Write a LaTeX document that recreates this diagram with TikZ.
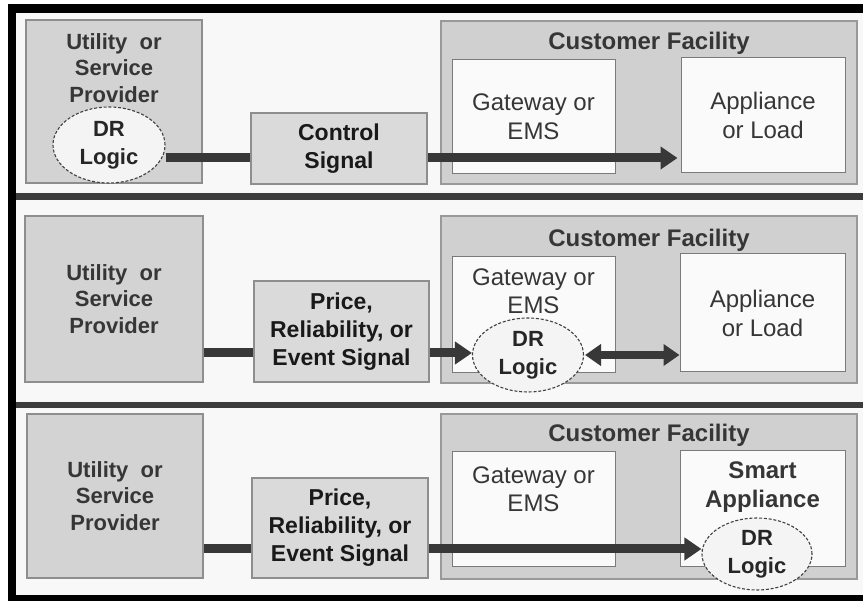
\documentclass[tikz,border=0pt]{standalone}
\usepackage{fontspec}
\setmainfont{Liberation Sans}
\usetikzlibrary{arrows.meta,shapes.geometric}
\pgfdeclarelayer{bg}
\pgfdeclarelayer{mid}
\pgfsetlayers{bg,mid,main}
\definecolor{sepgray}{HTML}{3C3C3C}
\definecolor{panelbg}{HTML}{F8F8F8}
\definecolor{boxfill}{HTML}{D3D3D3}
\definecolor{boxline}{HTML}{8E8E8E}
\definecolor{sigfill}{HTML}{DADADA}
\definecolor{custfill}{HTML}{D0D0D0}
\definecolor{innerfill}{HTML}{FAFAFA}
\definecolor{innerline}{HTML}{7A7A7A}
\definecolor{arrowgray}{HTML}{383838}
\definecolor{txtgray}{HTML}{363636}
\definecolor{ellfill}{HTML}{F4F4F4}
\begin{document}
\begin{tikzpicture}[x=1pt,y=-1pt,
  ubox/.style={draw=boxline,fill=boxfill,line width=1.2pt,rectangle,inner sep=0pt,
    align=center,text=txtgray,font=\fontsize{22}{26.5}\selectfont\bfseries},
  sigbox/.style={draw=boxline,fill=sigfill,line width=1.2pt,rectangle,inner sep=0pt,
    align=center,text=black!90,font=\fontsize{23}{28}\selectfont\bfseries},
  custbox/.style={draw=boxline!90,fill=custfill,line width=1.5pt,rectangle,inner sep=0pt},
  inbox/.style={draw=innerline,fill=innerfill,line width=1pt,rectangle,inner sep=0pt,
    align=center,text=txtgray,font=\fontsize{24}{29}\selectfont},
  title/.style={text=txtgray,font=\fontsize{24}{28}\selectfont\bfseries,inner sep=0pt},
  utxt/.style={align=center,text=txtgray,font=\fontsize{22}{26.5}\selectfont\bfseries,inner sep=0pt},
  gtxt/.style={align=center,text=txtgray,font=\fontsize{24}{28}\selectfont,inner sep=0pt},
  btxt/.style={align=center,text=txtgray,font=\fontsize{24}{29}\selectfont\bfseries,inner sep=0pt},
  drlogic/.style={ellipse,draw=black!75,fill=ellfill,line width=1.1pt,
    dash pattern=on 3pt off 1.8pt,inner sep=0pt,align=center,text=black!85,
    font=\fontsize{22}{28}\selectfont\bfseries},
  sig/.style={draw=arrowgray,line width=9pt,-{Triangle[length=17pt,width=22pt]}},
  sigboth/.style={draw=arrowgray,line width=8pt,
    {Triangle[length=16pt,width=21pt]}-{Triangle[length=16pt,width=21pt]}}
]
\useasboundingbox (0,0) rectangle (863,601);

\begin{pgfonlayer}{bg}
  % page, frame and the three panels
  \fill[white] (0,0) rectangle (863,601);
  \fill[black] (8,4) rectangle (863,601);
  \fill[sepgray] (16,13) rectangle (863,595);
  \fill[panelbg] (16,13) rectangle (863,193);
  \fill[panelbg] (16,200) rectangle (863,402);
  \fill[panelbg] (16,408) rectangle (863,595);

  % panel 1: provider holds the DR logic
  \node[ubox,minimum width=176pt,minimum height=163pt] (util1) at (114,101.5) {};
  \node[utxt] (util1txt) at (114,68) {Utility~ or\\Service\\Provider};
  \node[custbox,minimum width=416pt,minimum height=163pt] (cust1) at (649,102.5) {};
  \node[title] (cust1txt) at (649,43) {Customer Facility};
  \node[inbox,minimum width=163pt,minimum height=114pt] (gw1) at (533.5,117) {Gateway or\\EMS};
  \node[inbox,minimum width=164pt,minimum height=115pt] (app1) at (763,115.5) {Appliance\\or Load};

  % panel 2: gateway holds the DR logic
  \node[ubox,minimum width=178pt,minimum height=166pt] (util2) at (114,299) {Utility~ or\\Service\\Provider};
  \node[custbox,minimum width=416pt,minimum height=167pt] (cust2) at (649,299.5) {};
  \node[title] (cust2txt) at (649,240) {Customer Facility};
  \node[inbox,minimum width=163pt,minimum height=116pt] (gw2) at (533.5,315) {};
  \node[gtxt] (gw2txt) at (533.5,291.5) {Gateway or\\EMS};
  \node[inbox,minimum width=165pt,minimum height=118pt] (app2) at (762.5,313) {Appliance\\or Load};

  % panel 3: smart appliance holds the DR logic
  \node[ubox,minimum width=176pt,minimum height=164pt] (util3) at (115,496) {Utility~ or\\Service\\Provider};
  \node[custbox,minimum width=416pt,minimum height=165pt] (cust3) at (649,496.5) {};
  \node[title] (cust3txt) at (649,435) {Customer Facility};
  \node[inbox,minimum width=163pt,minimum height=115pt] (gw3) at (533.5,509.5) {};
  \node[gtxt] (gw3txt) at (533.5,489.5) {Gateway or\\EMS};
  \node[inbox,minimum width=165pt,minimum height=116pt] (app3) at (762.5,509) {};
  \node[btxt] (app3txt) at (762.5,487.5) {Smart\\Appliance};
\end{pgfonlayer}

% signal boxes and DR logic ellipses
\node[drlogic,minimum width=112pt,minimum height=76pt] (dr1) at (109,145) {DR\\Logic};
\node[sigbox,minimum width=176pt,minimum height=71pt] (ctl1) at (339,148.5) {Control\\Signal};

\node[sigbox,minimum width=175pt,minimum height=101pt] (price2) at (341.5,331.5) {Price,\\Reliability, or\\Event Signal};
\node[drlogic,minimum width=111pt,minimum height=74pt] (dr2) at (528,355) {DR\\Logic};

\node[sigbox,minimum width=176pt,minimum height=100pt] (price3) at (340,528) {Price,\\Reliability, or\\Event Signal};
\node[drlogic,minimum width=110pt,minimum height=72pt] (dr3) at (757,554) {DR\\Logic};

% signal arrows, running underneath the signal boxes
\begin{pgfonlayer}{mid}
  \coordinate (s1) at ([yshift=-13pt]dr1.east);
  \draw[sig,shorten >=3pt] (s1) -- (s1 -| app1.west);

  \coordinate (s2) at ([yshift=-54pt]util2.east);
  \draw[sig] (s2) -- (s2 -| dr2.west);
  \draw[sigboth] ([xshift=1pt]dr2.east) -- (app2.west |- dr2.east);

  \coordinate (s3) at ([yshift=-53pt]util3.east);
  \draw[sig] (s3) -- (s3 -| dr3.west);
\end{pgfonlayer}
\end{tikzpicture}
\end{document}
